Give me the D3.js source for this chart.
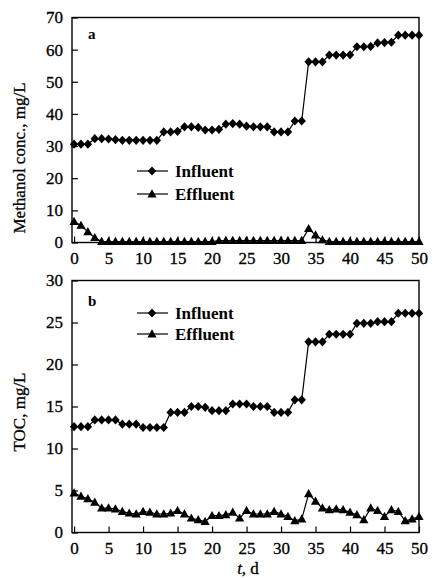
<!DOCTYPE html>
<html><head><meta charset="utf-8">
<script src="https://cdn.jsdelivr.net/npm/d3@7"></script>
<style>
body{margin:0;background:#fff;}
svg text{font-family:"Liberation Serif","Times New Roman",serif;fill:#000;}
</style></head>
<body><svg id="c" width="433" height="578"></svg>
<script>
const days = [0,1,2,3,4,5,6,7,8,9,10,11,12,13,14,15,16,17,18,19,20,21,22,23,24,25,26,27,28,29,30,31,32,33,34,35,36,37,38,39,40,41,42,43,44,45,46,47,48,49,50];
const methanolInfluent = [30.6,30.6,30.6,32.3,32.3,32.2,32.0,31.8,31.8,31.8,31.8,31.8,31.8,34.4,34.4,34.6,36.0,36.0,35.8,35.0,35.0,35.2,36.8,37.0,36.8,36.2,36.0,36.0,36.0,34.4,34.4,34.4,37.8,37.8,56.2,56.2,56.2,58.3,58.3,58.3,58.4,60.9,60.9,61.0,62.1,62.2,62.3,64.5,64.5,64.5,64.5];
const methanolEffluent = [6.5,5.3,3.3,1.5,0.3,0.3,0.3,0.3,0.3,0.3,0.3,0.3,0.3,0.3,0.3,0.3,0.3,0.3,0.3,0.3,0.3,0.6,0.6,0.6,0.6,0.6,0.6,0.6,0.6,0.6,0.6,0.6,0.6,0.6,4.3,2.3,0.8,0.3,0.3,0.3,0.3,0.3,0.3,0.3,0.3,0.3,0.3,0.3,0.3,0.3,0.3];
const tocInfluent = [12.6,12.6,12.6,13.4,13.4,13.4,13.4,12.9,12.9,12.9,12.5,12.5,12.5,12.5,14.3,14.3,14.3,15.0,15.0,14.9,14.5,14.5,14.5,15.3,15.3,15.3,15.0,15.0,15.0,14.3,14.3,14.3,15.8,15.8,22.7,22.7,22.7,23.6,23.6,23.6,23.6,24.9,24.9,24.9,25.1,25.1,25.1,26.1,26.1,26.1,26.1];
const tocEffluent = [4.7,4.3,4.0,3.6,2.9,2.9,2.8,2.5,2.3,2.2,2.5,2.4,2.2,2.2,2.3,2.6,2.2,1.7,1.5,1.3,2.0,2.0,2.1,2.4,1.7,2.6,2.2,2.2,2.2,2.5,2.2,1.9,1.4,1.6,4.6,3.7,2.9,2.7,2.8,2.7,2.4,2.1,1.5,2.9,2.6,1.9,2.7,2.5,1.4,1.6,1.9];
const xTicks = [0,5,10,15,20,25,30,35,40,45,50];
const yTicksA = [0,10,20,30,40,50,60,70];
const yTicksB = [0,5,10,15,20,25,30];
const seriesNames = ["Influent","Effluent"];

const svg = d3.select("#c");
const left = 72, right = 419;
const x = d3.scaleLinear().domain([-0.3, 50]).range([left, right]);

function diamond(g){ g.append("path").attr("d","M0,-4.6L4.2,0L0,4.6L-4.2,0Z").attr("fill","#000"); }
function triangle(g){ g.append("path").attr("d","M0,-4.8L4.6,3.4L-4.6,3.4Z").attr("fill","#000"); }

function panel(cfg){
  const y = d3.scaleLinear().domain(cfg.domain).range([cfg.bottom, cfg.top]);
  const g = svg.append("g");
  const xa = g.append("g").attr("transform",`translate(0,${cfg.bottom})`)
    .call(d3.axisBottom(x).tickValues(xTicks).tickSizeInner(-6).tickSizeOuter(0).tickPadding(9));
  const ya = g.append("g").attr("transform",`translate(${left},0)`)
    .call(d3.axisLeft(y).tickValues(cfg.ticks).tickSizeInner(-6).tickSizeOuter(0).tickPadding(9));
  [xa,ya].forEach(a=>{
    a.select(".domain").remove();
    a.selectAll("line").attr("stroke","#000").attr("stroke-width",1.2);
    a.selectAll("text").style("font-size","17px").style("font-family","Liberation Serif")
      .attr("stroke","#000").attr("stroke-width",0.3);
  });
  g.append("rect").attr("x",left).attr("y",cfg.top).attr("width",right-left).attr("height",cfg.bottom-cfg.top)
    .attr("fill","none").attr("stroke","#000").attr("stroke-width",1.4);
  const line = d3.line().x((d,i)=>x(days[i])).y(d=>y(d));
  [[cfg.inf,diamond],[cfg.eff,triangle]].forEach(([arr,mk])=>{
    g.append("path").datum(arr).attr("d",line).attr("fill","none").attr("stroke","#000").attr("stroke-width",1.2);
    arr.forEach((v,i)=>{ const m=g.append("g").attr("transform",`translate(${x(days[i])},${y(v)})`); mk(m); });
  });
  g.append("text").attr("x",88).attr("y",cfg.letterY).text(cfg.letter)
    .style("font-size","15px").style("font-weight","bold");
  [[diamond,cfg.legY[0]],[triangle,cfg.legY[1]]].forEach(([mk,ly],k)=>{
    g.append("line").attr("x1",137).attr("x2",168).attr("y1",ly).attr("y2",ly).attr("stroke","#000").attr("stroke-width",1.2);
    const m=g.append("g").attr("transform",`translate(152,${ly})`); mk(m);
    g.append("text").attr("x",175).attr("y",ly+6).text(seriesNames[k])
      .style("font-size","17px").style("font-weight","bold");
  });
  g.append("text").attr("transform",`translate(25,${cfg.titleY}) rotate(-90)`).attr("text-anchor","middle")
    .text(cfg.title).style("font-size","17px").attr("stroke","#000").attr("stroke-width",0.3);
}

panel({domain:[0,70],ticks:yTicksA,top:17.5,bottom:242.5,inf:methanolInfluent,eff:methanolEffluent,
  letter:"a",letterY:39,legY:[171,194],title:"Methanol conc., mg/L",titleY:158});
panel({domain:[0,30],ticks:yTicksB,top:280.5,bottom:532.5,inf:tocInfluent,eff:tocEffluent,
  letter:"b",letterY:306,legY:[313,334],title:"TOC, mg/L",titleY:412});

const xt = svg.append("text").attr("x",248).attr("y",574).attr("text-anchor","middle").style("font-size","17px")
  .attr("stroke","#000").attr("stroke-width",0.3);
xt.append("tspan").style("font-style","italic").text("t");
xt.append("tspan").text(", d");
</script></body></html>
